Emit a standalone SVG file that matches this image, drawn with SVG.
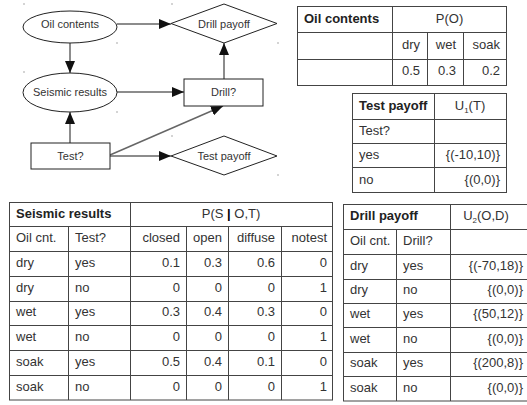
<svg xmlns="http://www.w3.org/2000/svg" width="527" height="405" viewBox="0 0 527 405">
<style>
.n{fill:#fff;stroke:#222;stroke-width:1}
.nt{font-family:"Liberation Sans",Arial,sans-serif;font-size:11px;fill:#333;text-anchor:middle}
.c{stroke:#666;stroke-width:1.5;fill:none}
.dot{fill:#555}
.tb{fill:#fff;stroke:#444;stroke-width:1}
.gl{stroke:#444;stroke-width:1;fill:none}
.t{font-family:"Liberation Sans",Arial,sans-serif;font-size:13px;fill:#333}
.h{font-weight:bold;fill:#222}
.r{text-anchor:end}
.m{text-anchor:middle}
</style>
<defs>
<marker id="ah" markerUnits="userSpaceOnUse" markerWidth="12" markerHeight="10" refX="12" refY="5" orient="auto">
<path d="M0,0 L12,5 L0,10 z" fill="#111"/>
</marker>
</defs>
<g id="dots">
<rect class="dot" x="23.5" y="3.5" width="1" height="1"/>
<rect class="dot" x="171.5" y="3.5" width="1" height="1"/>
<rect class="dot" x="116.5" y="42.5" width="1" height="1"/>
<rect class="dot" x="277.5" y="42.5" width="1" height="1"/>
<rect class="dot" x="23.5" y="71.5" width="1" height="1"/>
<rect class="dot" x="116.5" y="111.5" width="1" height="1"/>
<rect class="dot" x="171.5" y="135.5" width="1" height="1"/>
<rect class="dot" x="277.5" y="174.5" width="1" height="1"/>
</g>
<g id="connectors">
<line class="c" x1="117" y1="24" x2="171" y2="24" marker-end="url(#ah)"/>
<line class="c" x1="70" y1="43" x2="70" y2="73" marker-end="url(#ah)"/>
<line class="c" x1="117" y1="92" x2="184" y2="92" marker-end="url(#ah)"/>
<line class="c" x1="224" y1="79" x2="224" y2="43" marker-end="url(#ah)"/>
<line class="c" x1="70" y1="143" x2="70" y2="112" marker-end="url(#ah)"/>
<line class="c" x1="110" y1="156" x2="171" y2="156" marker-end="url(#ah)"/>
<line class="c" x1="110" y1="155" x2="223" y2="106" marker-end="url(#ah)"/>
</g>
<g id="oil">
<ellipse class="n" cx="70" cy="27" rx="47" ry="16"/>
<text class="nt" x="70" y="28">Oil contents</text>
</g>
<g id="seismic">
<ellipse class="n" cx="70" cy="92.5" rx="47" ry="19.5"/>
<text class="nt" x="70" y="96">Seismic results</text>
</g>
<g id="test">
<rect class="n" x="31" y="143" width="79" height="26"/>
<text class="nt" x="70.5" y="160">Test?</text>
</g>
<g id="drill">
<rect class="n" x="184" y="79" width="79" height="27"/>
<text class="nt" x="223.5" y="96">Drill?</text>
</g>
<g id="drillpayoff">
<polygon class="n" points="171,23.5 224,4 277,23.5 224,43"/>
<text class="nt" x="224" y="28">Drill payoff</text>
</g>
<g id="testpayoff">
<polygon class="n" points="171,156 224,136 277,156 224,175"/>
<text class="nt" x="224" y="160">Test payoff</text>
</g>

<g id="table-oil">
<rect class="tb" x="297.5" y="6.5" width="209" height="79"/>
<path class="gl" d="M297.5,32.5H506.5M297.5,59.5H506.5M392.5,6.5V85.5M427.5,32.5V85.5M463.5,32.5V85.5"/>
<text class="t h" x="304" y="23">Oil contents</text>
<text class="t m" x="449.5" y="23">P(O)</text>
<text class="t r" x="420" y="49">dry</text>
<text class="t r" x="456" y="49">wet</text>
<text class="t r" x="500" y="49">soak</text>
<text class="t r" x="420" y="75">0.5</text>
<text class="t r" x="456" y="75">0.3</text>
<text class="t r" x="500" y="75">0.2</text>
</g>

<g id="table-test">
<rect class="tb" x="352.5" y="93.5" width="154" height="99"/>
<path class="gl" d="M352.5,119.5H506.5M352.5,143.5H506.5M352.5,167.5H506.5M434.5,93.5V192.5"/>
<text class="t h" x="359" y="110">Test payoff</text>
<text class="t m" x="470" y="110">U<tspan font-size="8" dy="3">1</tspan><tspan dy="-3">(T)</tspan></text>
<text class="t" x="359" y="135">Test?</text>
<text class="t" x="359" y="159">yes</text>
<text class="t r" x="500" y="159">{(-10,10)}</text>
<text class="t" x="359" y="184">no</text>
<text class="t r" x="500" y="184">{(0,0)}</text>
</g>

<g id="table-seismic">
<rect class="tb" x="9.5" y="202.5" width="323" height="197.5"/>
<path class="gl" d="M9.5,226.5H332.5M9.5,251.5H332.5M9.5,276.5H332.5M9.5,301.5H332.5M9.5,325.5H332.5M9.5,350.5H332.5M9.5,375.5H332.5M68.5,226.5V400M130.5,202.5V400M186.5,226.5V400M228.5,226.5V400M281.5,226.5V400"/>
<text class="t h" x="16" y="218">Seismic results</text>
<text class="t m" x="231" y="218">P(S <tspan font-weight="bold" fill="#000">|</tspan> O,T)</text>
<text class="t" x="16" y="242">Oil cnt.</text>
<text class="t" x="75" y="242">Test?</text>
<text class="t r" x="180" y="242">closed</text>
<text class="t r" x="222" y="242">open</text>
<text class="t r" x="275" y="242">diffuse</text>
<text class="t r" x="327" y="242">notest</text>

<text class="t" x="16" y="267">dry</text><text class="t" x="75" y="267">yes</text>
<text class="t r" x="180" y="267">0.1</text><text class="t r" x="222" y="267">0.3</text><text class="t r" x="275" y="267">0.6</text><text class="t r" x="327" y="267">0</text>

<text class="t" x="16" y="292">dry</text><text class="t" x="75" y="292">no</text>
<text class="t r" x="180" y="292">0</text><text class="t r" x="222" y="292">0</text><text class="t r" x="275" y="292">0</text><text class="t r" x="327" y="292">1</text>

<text class="t" x="16" y="316">wet</text><text class="t" x="75" y="316">yes</text>
<text class="t r" x="180" y="316">0.3</text><text class="t r" x="222" y="316">0.4</text><text class="t r" x="275" y="316">0.3</text><text class="t r" x="327" y="316">0</text>

<text class="t" x="16" y="341">wet</text><text class="t" x="75" y="341">no</text>
<text class="t r" x="180" y="341">0</text><text class="t r" x="222" y="341">0</text><text class="t r" x="275" y="341">0</text><text class="t r" x="327" y="341">1</text>

<text class="t" x="16" y="366">soak</text><text class="t" x="75" y="366">yes</text>
<text class="t r" x="180" y="366">0.5</text><text class="t r" x="222" y="366">0.4</text><text class="t r" x="275" y="366">0.1</text><text class="t r" x="327" y="366">0</text>

<text class="t" x="16" y="391">soak</text><text class="t" x="75" y="391">no</text>
<text class="t r" x="180" y="391">0</text><text class="t r" x="222" y="391">0</text><text class="t r" x="275" y="391">0</text><text class="t r" x="327" y="391">1</text>
</g>

<g id="table-drill">
<rect class="tb" x="343.5" y="204.5" width="186" height="196.5"/>
<path class="gl" d="M343.5,229.5H529M343.5,254.5H529M343.5,279.5H529M343.5,303.5H529M343.5,327.5H529M343.5,352.5H529M343.5,376.5H529M396.5,229.5V401M450.5,204.5V401"/>
<text class="t h" x="350" y="220">Drill payoff</text>
<text class="t m" x="486" y="220">U<tspan font-size="8" dy="3">2</tspan><tspan dy="-3">(O,D)</tspan></text>
<text class="t" x="350" y="245">Oil cnt.</text>
<text class="t" x="403" y="245">Drill?</text>
<text class="t" x="350" y="270">dry</text><text class="t" x="403" y="270">yes</text><text class="t r" x="523" y="270">{(-70,18)}</text>
<text class="t" x="350" y="294">dry</text><text class="t" x="403" y="294">no</text><text class="t r" x="523" y="294">{(0,0)}</text>
<text class="t" x="350" y="318">wet</text><text class="t" x="403" y="318">yes</text><text class="t r" x="523" y="318">{(50,12)}</text>
<text class="t" x="350" y="343">wet</text><text class="t" x="403" y="343">no</text><text class="t r" x="523" y="343">{(0,0)}</text>
<text class="t" x="350" y="367">soak</text><text class="t" x="403" y="367">yes</text><text class="t r" x="523" y="367">{(200,8)}</text>
<text class="t" x="350" y="392">soak</text><text class="t" x="403" y="392">no</text><text class="t r" x="523" y="392">{(0,0)}</text>
</g>
</svg>
